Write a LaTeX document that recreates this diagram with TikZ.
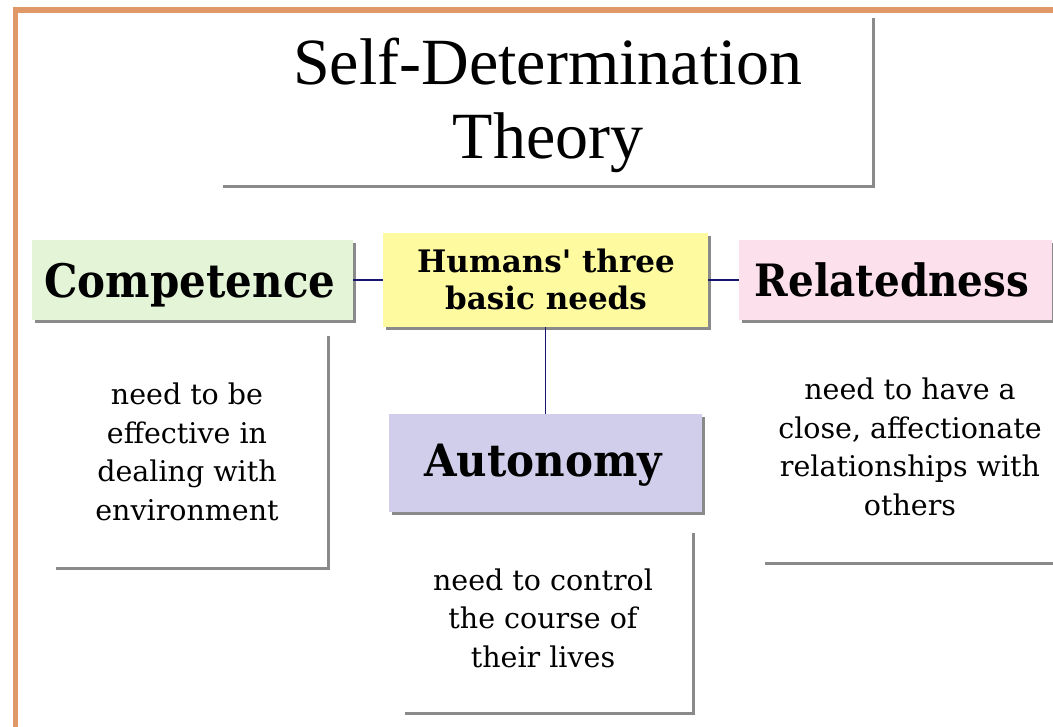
\documentclass[tikz,border=0pt]{standalone}
\usepackage{fontspec}
\usepackage{graphicx}
\setmainfont{Liberation Serif}
\newfontfamily\labfont{DejaVu Serif}
\usetikzlibrary{shadows}
\definecolor{framecol}{RGB}{224,152,104}
\definecolor{compfill}{RGB}{227,244,215}
\definecolor{humfill}{RGB}{253,250,160}
\definecolor{relfill}{RGB}{252,224,236}
\definecolor{autfill}{RGB}{208,206,234}
\definecolor{linkcol}{RGB}{22,22,112}
\begin{document}
\begin{tikzpicture}[x=1pt,y=-1pt,
  box/.style={rectangle, inner sep=0pt, draw=none,
    drop shadow={shadow xshift=2.5pt, shadow yshift=-3pt, fill=black!65, opacity=.7}},
  lbl/.style={anchor=base, inner sep=0pt, font=\labfont\bfseries\fontsize{42}{46}\selectfont},
  desc/.style={anchor=base, inner sep=0pt, align=center, font=\labfont\fontsize{28.5}{38.5}\selectfont},
  link/.style={draw=linkcol, line width=1.8pt}]
\useasboundingbox (0,0) rectangle (1053,727);
\begin{scope}
\clip (0,0) rectangle (1053,727);
\fill[white] (0,0) rectangle (1053,727);
\draw[framecol, line width=5.5pt] (15.5,10) rectangle (1090,770);
% boxes
\node[box, fill=white, minimum width=652pt, minimum height=170pt] (title) at (546,100) {};
\node[box, fill=compfill, minimum width=321pt, minimum height=80pt] (comp) at (192.5,280) {};
\node[box, fill=humfill, minimum width=325pt, minimum height=94pt] (hum) at (545.5,280) {};
\node[box, fill=relfill, minimum width=313pt, minimum height=80pt] (rel) at (895.5,280) {};
\node[box, fill=autfill, minimum width=313pt, minimum height=98pt] (aut) at (545.5,463) {};
\node[box, fill=white, minimum width=274pt, minimum height=234pt] (compd) at (190,450) {};
\node[box, fill=white, minimum width=290pt, minimum height=182pt] (autd) at (547,621) {};
\node[box, fill=white, minimum width=303pt, minimum height=227pt] (reld) at (913.5,448.5) {};
% connectors
\draw[link] (comp.east) -- (hum.west);
\draw[link] (hum.east) -- (rel.west);
\draw[link] (hum.south) -- (aut.north);
% texts (anchor=base is the baseline of the last line)
\node[anchor=base, inner sep=0pt, align=center, font=\fontsize{66}{74}\selectfont] (titletxt) at (548,159) {Self-Determination\\Theory};
\node[lbl] (comptxt) at (190,298) {\scalebox{1}[1.1]{Competence}};
\node[lbl, font=\labfont\bfseries\fontsize{31}{37}\selectfont, align=center] (humtxt) at (546,310) {Humans' three\\basic needs};
\node[lbl, font=\labfont\bfseries\fontsize{40.5}{46}\selectfont] (reltxt) at (892,297) {\scalebox{1}[1.1]{Relatedness}};
\node[lbl] (auttxt) at (543,476) {\scalebox{1}[1.06]{Autonomy}};
\node[desc] (compdtxt) at (187,520) {need to be\\effective in\\dealing with\\environment};
\node[desc] (autdtxt) at (543,667) {need to control\\the course of\\their lives};
\node[desc] (reldtxt) at (910,515) {need to have a\\close, affectionate\\relationships with\\others};
\end{scope}
\end{tikzpicture}
\end{document}
